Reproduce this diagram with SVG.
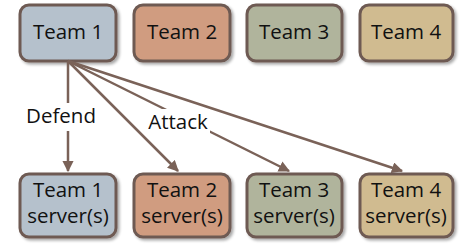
<svg xmlns="http://www.w3.org/2000/svg" width="463" height="246" viewBox="0 0 463 246">
<defs>
<marker id="arr" viewBox="0 0 10 10" refX="9" refY="5" markerWidth="4.5" markerHeight="4.5" orient="auto" markerUnits="strokeWidth">
<path d="M0,0 L10,5 L0,10 z" fill="#7a6258"/>
</marker>
<filter id="sh" x="-10%" y="-10%" width="130%" height="130%">
<feGaussianBlur in="SourceAlpha" stdDeviation="1.5"/>
<feOffset dx="2" dy="2"/>
<feComponentTransfer><feFuncA type="linear" slope="0.35"/></feComponentTransfer>
<feMerge><feMergeNode/><feMergeNode in="SourceGraphic"/></feMerge>
</filter>
</defs>
<style>
.box{stroke:#6e5a52;stroke-width:3;filter:url(#sh)}
.t{font-family:"Open Sans","Liberation Sans",sans-serif;font-size:20.5px;fill:#111;text-anchor:middle}
.c1{fill:#b5c1cc}.c2{fill:#d09c80}.c3{fill:#b0b49c}.c4{fill:#d0bb90}
.ln{stroke:#7a6258;stroke-width:2.5;fill:none;marker-end:url(#arr)}
.lbl{fill:#fff}
</style>
<rect width="463" height="246" fill="#fff"/>
<g id="team1"><rect class="box c1" x="20" y="5" width="96" height="56" rx="9"/><text class="t" x="68" y="39">Team 1</text></g>
<g id="team2"><rect class="box c2" x="134" y="5" width="96" height="56" rx="9"/><text class="t" x="182" y="39">Team 2</text></g>
<g id="team3"><rect class="box c3" x="247" y="5" width="95" height="56" rx="9"/><text class="t" x="294" y="39">Team 3</text></g>
<g id="team4"><rect class="box c4" x="360" y="5" width="93" height="56" rx="9"/><text class="t" x="406" y="39">Team 4</text></g>
<g id="connectors">
<line class="ln" x1="68" y1="61" x2="68" y2="171"/>
<line class="ln" x1="68" y1="61" x2="178" y2="171"/>
<line class="ln" x1="68" y1="61" x2="289" y2="171"/>
<line class="ln" x1="68" y1="61" x2="402" y2="171"/>
<rect class="lbl" x="25" y="103" width="72" height="28"/>
<text class="t" x="61" y="123">Defend</text>
<rect class="lbl" x="145" y="109" width="65" height="27"/>
<text class="t" x="178" y="129">Attack</text>
</g>
<g id="server1"><rect class="box c1" x="20" y="174" width="96" height="63" rx="9"/><text class="t" x="68" y="197">Team 1</text><text class="t" x="68" y="223">server(s)</text></g>
<g id="server2"><rect class="box c2" x="134" y="174" width="96" height="63" rx="9"/><text class="t" x="182" y="197">Team 2</text><text class="t" x="182" y="223">server(s)</text></g>
<g id="server3"><rect class="box c3" x="247" y="174" width="95" height="63" rx="9"/><text class="t" x="294" y="197">Team 3</text><text class="t" x="294" y="223">server(s)</text></g>
<g id="server4"><rect class="box c4" x="360" y="174" width="93" height="63" rx="9"/><text class="t" x="406" y="197">Team 4</text><text class="t" x="406" y="223">server(s)</text></g>
</svg>
